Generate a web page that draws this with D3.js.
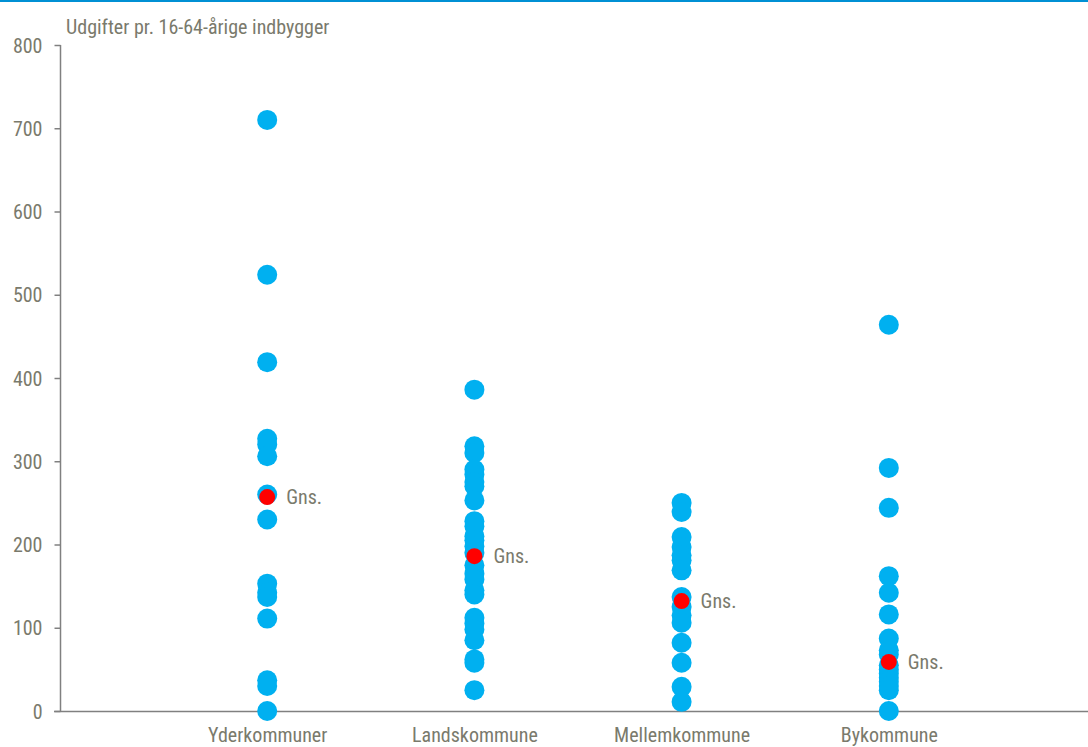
<!DOCTYPE html>
<html><head><meta charset="utf-8">
<script src="https://cdn.jsdelivr.net/npm/d3@7/dist/d3.min.js"></script>
<style>
html,body{margin:0;padding:0;background:#fff;}
text{font-family:"Liberation Sans Narrow","Arial Narrow","Roboto Condensed",sans-serif;fill:#7a7a6c;}
</style></head>
<body>
<svg id="c" width="1088" height="747"></svg>
<script>
const categories = ["Yderkommuner","Landskommune","Mellemkommune","Bykommune"];
const yderValues = [710, 524, 419, 327, 320, 306, 260, 230, 153, 142, 137, 111, 37, 30, 0];
const landsValues = [386, 318, 310, 290, 284, 275, 270, 253, 228, 222, 210, 205, 198, 190, 175, 165, 158, 145, 140, 112, 105, 98, 85, 62, 58, 25];
const mellemValues = [250, 239, 209, 197, 187, 181, 169, 137, 125, 115, 106, 82, 58, 29, 11];
const byValues = [464, 292, 244, 162, 142, 116, 87, 73, 68, 55, 50, 45, 40, 35, 30, 25, 0];
const averages = [257, 186, 132, 59];
const averageLabel = "Gns.";
const yTicks = [0, 100, 200, 300, 400, 500, 600, 700, 800];
const yTitle = "Udgifter pr. 16-64-årige indbygger";

const seriesValues = [yderValues, landsValues, mellemValues, byValues];

const svg = d3.select("#c");
const W = 1088, H = 747;
const mLeft = 60.5, mTop = 45, mBottom = 711;
const fs = "20px";

svg.append("line").attr("x1",0).attr("x2",W).attr("y1",1).attr("y2",1)
  .attr("stroke","#0090d4").attr("stroke-width",2);

const x = d3.scalePoint().domain(categories).range([60, 1096]).padding(1);
const y = d3.scaleLinear().domain([0, 800]).range([mBottom, mTop]);

// y axis
const yAxis = svg.append("g").attr("transform",`translate(${mLeft},0)`)
  .call(d3.axisLeft(y).tickValues(yTicks).tickSize(6).tickPadding(12).tickFormat(d3.format("d")));
yAxis.select(".domain").attr("stroke","#808080").attr("stroke-width",1.5).attr("d",`M0,${mTop}V${mBottom}`);
yAxis.selectAll(".tick line").attr("stroke","#808080").attr("stroke-width",1.5);
yAxis.selectAll(".tick text").style("font-size",fs).attr("fill","#7a7a6c").attr("dy","0.35em");

// x axis
svg.append("line").attr("x1",54).attr("x2",W).attr("y1",y(0)+0.5).attr("y2",y(0)+0.5)
  .attr("stroke","#808080").attr("stroke-width",1.5);
const xAxis = svg.append("g").attr("transform",`translate(0,${y(0)})`)
  .call(d3.axisBottom(x).tickSize(0).tickPadding(0));
xAxis.select(".domain").remove();
xAxis.selectAll(".tick text").style("font-size",fs).attr("fill","#7a7a6c").attr("dy","0").attr("y",31);

// title
svg.append("text").attr("x",66).attr("y",34).style("font-size",fs).text(yTitle);

// points
categories.forEach((c,i)=>{
  svg.append("g").selectAll("circle").data(seriesValues[i]).join("circle")
    .attr("cx", x(c)).attr("cy", d=>y(d)).attr("r",10).attr("fill","#00b0f0");
});
categories.forEach((c,i)=>{
  svg.append("circle").attr("cx",x(c)).attr("cy",y(averages[i])).attr("r",8).attr("fill","#ff0000");
  svg.append("text").attr("x",x(c)+19).attr("y",y(averages[i])).attr("dy","0.35em")
    .style("font-size",fs).text(averageLabel);
});
</script>
</body></html>
